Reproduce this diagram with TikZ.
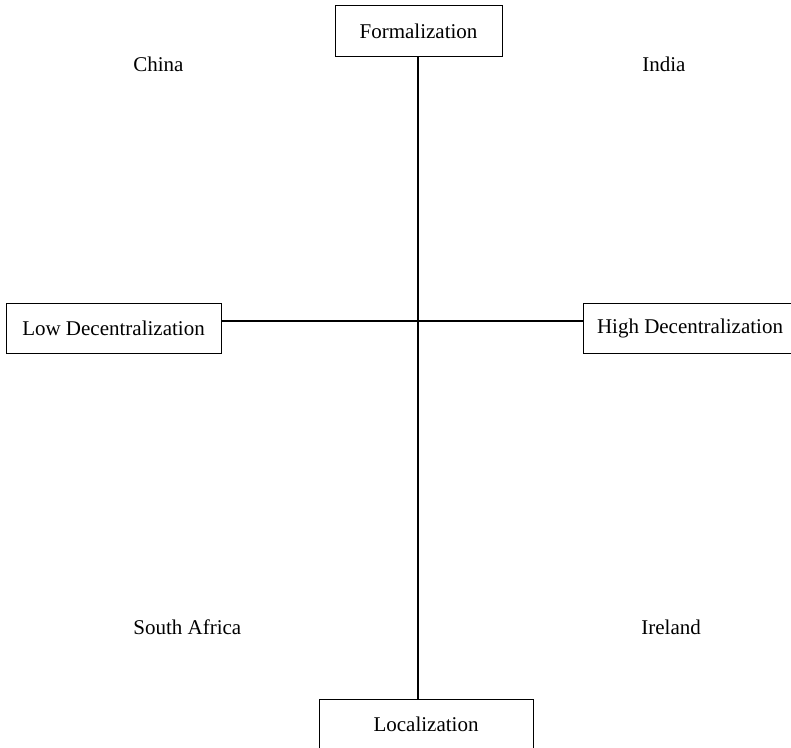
\documentclass[tikz,border=0pt]{standalone}
\usepackage{fontspec}
\setmainfont{Liberation Serif}
\begin{document}
\begin{tikzpicture}[x=0.5pt,y=-0.5pt,
  font=\fontsize{10.5pt}{12pt}\selectfont,
  axisbox/.style={draw, line width=0.5pt, inner sep=0pt, align=center},
  axis/.style={line width=0.8pt},
  country/.style={inner sep=0pt, anchor=base west}]
  \useasboundingbox (0,0) rectangle (791,748);
  \clip (0,0) rectangle (791,748);

  % axis end boxes
  \node[axisbox, minimum width=83.5pt, minimum height=25.5pt] (form) at (418.5,31.5) {Formalization};
  \node[axisbox, minimum width=107.5pt, minimum height=24.5pt] (low) at (113.5,328.5) {Low Decentralization};
  \node[axisbox, minimum width=107pt, minimum height=24.5pt] (high) at (690,328.5) {High Decentralization};
  \node[axisbox, minimum width=107pt, minimum height=25pt] (loc) at (426,724) {Localization};

  % crossing point of the two axes
  \coordinate (mid) at (418,321);

  \draw[axis] (form.south -| mid) -- (loc.north -| mid);
  \draw[axis] (low.east |- mid) -- (high.west |- mid);

  % quadrant labels
  \node[country] (china) at (133,72) {China};
  \node[country] (india) at (642,72) {India};
  \node[country] (safrica) at (133,634) {South Africa};
  \node[country] (ireland) at (641,634) {Ireland};
\end{tikzpicture}
\end{document}
